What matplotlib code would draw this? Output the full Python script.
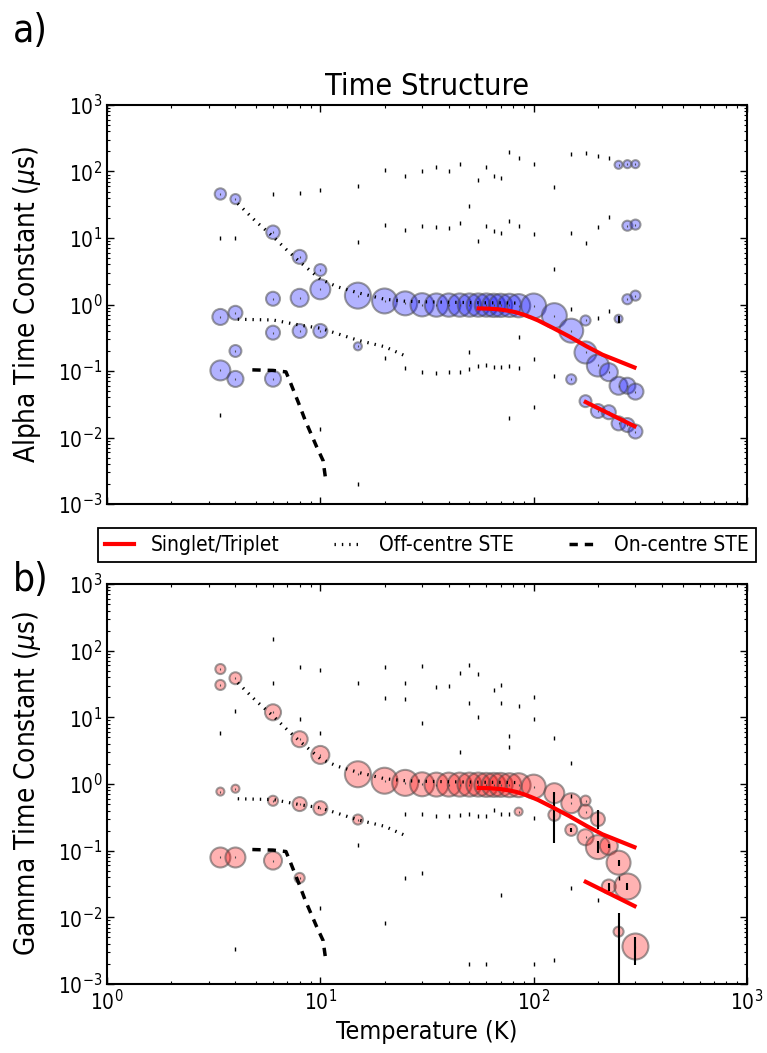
import numpy as np
import matplotlib
matplotlib.use("Agg")
import matplotlib.pyplot as plt
from matplotlib.lines import Line2D

# ---------------- data ----------------
# Alpha: fitted components (temperature K, time constant us, relative amplitude)
alpha_T = [3.4, 3.4, 3.4, 4, 4, 4, 4, 6, 6, 6, 6, 8, 8, 8, 10, 10, 10, 15, 15,
           20, 25, 30, 35, 40, 45, 50, 55, 60, 65, 70, 77, 85, 100, 125,
           150, 150, 175, 175, 175, 200, 200, 225, 225,
           250, 250, 250, 250, 275, 275, 275, 275, 275, 300, 300, 300, 300, 300]
alpha_tau = [45.9, 0.65, 0.102, 38.5, 0.75, 0.20, 0.076, 12.2, 1.22, 0.377, 0.0766,
             5.2, 1.26, 0.40, 3.3, 1.69, 0.40, 1.36, 0.235,
             1.13, 1.04, 0.99, 0.98, 0.98, 0.98, 0.98, 0.98, 0.98, 0.97, 0.97, 0.97, 0.96,
             0.95, 0.68, 0.404, 0.075, 0.19, 0.575, 0.0352, 0.121, 0.025, 0.096, 0.024,
             0.060, 0.61, 0.0163, 126, 0.060, 1.2, 15.3, 0.0154, 129,
             0.049, 1.36, 15.9, 0.0123, 129]
alpha_amp = [0.19, 0.38, 0.59, 0.15, 0.29, 0.21, 0.38, 0.27, 0.29, 0.29, 0.38,
             0.29, 0.48, 0.29, 0.21, 0.59, 0.29, 1.0, 0.095,
             0.92, 0.85, 0.8, 0.8, 0.8, 0.8, 0.8, 0.8, 0.8, 0.8, 0.8, 0.8, 0.8,
             0.92, 0.92, 0.85, 0.15, 0.72, 0.15, 0.21, 0.72, 0.29, 0.48, 0.29,
             0.48, 0.095, 0.29, 0.095, 0.38, 0.15, 0.15, 0.29, 0.095,
             0.38, 0.15, 0.15, 0.29, 0.095]
# Alpha: negligible-amplitude components
alpha_small_T = [3.4, 3.4, 4, 6, 8, 10, 10, 15, 15, 15, 20, 20, 20, 25, 25, 25,
                 30, 30, 30, 35, 35, 35, 40, 40, 40, 45, 45, 45, 50, 50, 50,
                 55, 55, 55, 60, 60, 60, 65, 65, 65, 70, 70, 70, 77, 77, 77, 77,
                 85, 85, 85, 85, 100, 100, 100, 100, 125, 125, 125,
                 150, 150, 150, 175, 175, 200, 200, 200, 225, 225, 225]
alpha_small_tau = [10, 0.022, 10, 46, 47.5, 52, 0.0135, 61, 8.6, 0.002, 107, 15.7, 0.159,
                   85, 13, 0.112, 102, 15.2, 0.096, 117, 14.8, 0.093, 102, 14, 0.098,
                   129, 17, 0.098, 30, 0.19, 0.107, 74, 9.1, 0.119, 115, 15.3, 0.123,
                   85, 12.9, 0.115, 79, 12.0, 0.114, 198, 17.8, 0.119, 0.0195,
                   159, 15.3, 0.33, 0.110, 129, 11.3, 0.15, 0.029, 59, 3.42, 0.084,
                   183, 11.7, 0.855, 192, 8.5, 174, 14.8, 0.634, 158, 20.7, 0.8]
alpha_eb_T = [250]
alpha_eb_tau = [0.61]
alpha_eb_lo = [0.52]
alpha_eb_hi = [0.67]

# Gamma
gamma_T = [3.4, 3.4, 3.4, 3.4, 4, 4, 4, 6, 6, 6, 8, 8, 8, 10, 10, 15, 15,
           20, 25, 30, 35, 40, 45, 50, 55, 60, 65, 70, 77, 85, 85, 100,
           125, 125, 150, 150, 175, 175, 175, 200, 200, 225, 225, 250, 250, 275, 300]
gamma_tau = [53, 30.6, 0.77, 0.079, 38.6, 0.85, 0.079, 11.9, 0.56, 0.071,
             4.7, 0.50, 0.039, 2.73, 0.434, 1.40, 0.293,
             1.12, 1.04, 0.99, 0.98, 0.98, 0.98, 0.98, 0.98, 0.97, 0.97, 0.97, 0.96, 0.96, 0.385,
             0.914, 0.728, 0.344, 0.515, 0.205, 0.563, 0.385, 0.159, 0.297, 0.113,
             0.118, 0.029, 0.066, 0.0061, 0.029, 0.00365]
gamma_amp = [0.15, 0.15, 0.095, 0.59, 0.21, 0.095, 0.59, 0.38, 0.15, 0.48,
             0.38, 0.29, 0.15, 0.48, 0.29, 1.0, 0.15,
             1.0, 1.0, 0.85, 0.85, 0.85, 0.85, 0.85, 0.85, 0.85, 0.85, 0.85, 0.85, 0.85, 0.095,
             0.85, 0.59, 0.21, 0.59, 0.21, 0.15, 0.29, 0.38, 0.29, 0.85,
             0.48, 0.29, 0.85, 0.15, 1.0, 1.0]
gamma_small_T = [3.4, 4, 4, 6, 6, 8, 8, 10, 10, 10, 15, 15, 20, 20, 20,
                 25, 25, 25, 25, 30, 30, 30, 30, 35, 35, 40, 40, 45, 45, 45,
                 50, 50, 50, 50, 55, 55, 55, 60, 60, 65, 65, 70, 70, 70, 70,
                 77, 77, 77, 85, 100, 100, 100, 100, 125, 125, 150, 150, 150, 200, 250]
gamma_small_tau = [5.8, 12.5, 0.0033, 148, 33, 57, 9.5, 51, 5.8, 0.0137, 33, 0.122,
                   56, 19.7, 0.0083, 33, 18.9, 0.356, 0.0387, 59, 8.3, 0.356, 0.047,
                   29, 0.333, 29.5, 0.335, 47, 3.0, 0.34, 60, 16.3, 0.35, 0.002,
                   45, 10, 0.33, 0.335, 0.002, 26, 0.41, 31, 16.3, 0.35, 0.0217,
                   5.3, 3.55, 0.35, 15, 20, 9.3, 0.307, 0.002, 4.9, 0.0023,
                   2.1, 0.65, 0.028, 0.0183, 0.039]
gamma_eb_T = [125, 150, 200, 200, 225, 225, 250, 250, 275, 300]
gamma_eb_tau = [0.344, 0.205, 0.297, 0.113, 0.118, 0.029, 0.066, 0.0061, 0.029, 0.00365]
gamma_eb_lo = [0.129, 0.19, 0.21, 0.0935, 0.11, 0.025, 0.0585, 0.0001, 0.0258, 0.00194]
gamma_eb_hi = [0.77, 0.22, 0.41, 0.139, 0.128, 0.033, 0.0736, 0.0116, 0.0325, 0.00515]

# Model curves
singlet_T = [54, 62, 70, 77, 83, 90, 97, 105, 123, 147, 177, 210, 254, 303]
singlet_tau = [0.875, 0.865, 0.84, 0.80, 0.76, 0.70, 0.64, 0.575, 0.445, 0.33, 0.235, 0.176, 0.138, 0.11]
triplet_T = [172, 303]
triplet_tau = [0.0352, 0.0143]
off_upper_T = [4.1, 5, 6, 7, 8, 10, 12, 15, 20, 25, 30, 40, 50, 60, 70, 85]
off_upper_tau = [33, 17.6, 10.5, 6.5, 4.4, 2.4, 1.85, 1.5, 1.2, 1.12, 1.1, 1.08, 1.07, 1.06, 1.06, 1.05]
off_lower_T = [4.1, 6, 8, 10, 15, 20, 24.5]
off_lower_tau = [0.6, 0.585, 0.49, 0.44, 0.29, 0.232, 0.174]
on_T = [4.8, 6.0, 6.9, 7.2, 8.0, 8.5, 9.6, 10.3, 10.6]
on_tau = [0.104, 0.102, 0.097, 0.07, 0.03, 0.018, 0.0073, 0.0045, 0.0023]

legend_labels = ["Singlet/Triplet", "Off-centre STE", "On-centre STE"]

# ---------------- style ----------------
plt.rcParams.update({
    "font.family": ["DejaVu Sans"],
    "font.stretch": "condensed",
    "mathtext.fontset": "dejavusans",
    "xtick.direction": "in", "ytick.direction": "in",
    "xtick.top": True, "ytick.right": True,
    "xtick.major.size": 5, "ytick.major.size": 5,
    "xtick.minor.size": 2.5, "ytick.minor.size": 2.5,
    "xtick.major.width": 1.0, "ytick.major.width": 1.0,
    "xtick.minor.width": 0.8, "ytick.minor.width": 0.8,
    "axes.linewidth": 1.5,
    "lines.scale_dashes": False,
    "xtick.labelsize": 15, "ytick.labelsize": 15,
})

W, H = 767, 1053
fig = plt.figure(figsize=(W / 100, H / 100), dpi=100)
ax1 = fig.add_axes([107 / W, 1 - 504 / H, 640 / W, 399 / H])
ax2 = fig.add_axes([107 / W, 1 - 984 / H, 640 / W, 400 / H])

SMAX = 350.0
DOT = (1, 4.3)


def draw_panel(ax, T, tau, amp, sT, stau, ebT, ebtau, eblo, ebhi, face):
    T = np.asarray(T, float); tau = np.asarray(tau, float); amp = np.asarray(amp, float)
    ax.scatter(T, tau, s=amp * SMAX, facecolor=face, edgecolor=(0.3, 0.3, 0.3, 0.55),
               linewidth=1.5, zorder=2)
    ax.plot(T, tau, ls="none", marker="|", ms=2, mew=0.8, color=(0.3, 0.3, 0.3), zorder=3)
    ax.plot(sT, stau, ls="none", marker="|", ms=2.2, mew=1.0, color="k", zorder=3)
    ebtau = np.asarray(ebtau, float)
    yerr = [ebtau - np.asarray(eblo, float), np.asarray(ebhi, float) - ebtau]
    ax.errorbar(ebT, ebtau, yerr=yerr, fmt="none", ecolor="k", elinewidth=1.5, capsize=0, zorder=3)
    ax.plot(singlet_T, singlet_tau, color="red", lw=3, zorder=4, solid_capstyle="butt")
    ax.plot(triplet_T, triplet_tau, color="red", lw=3, zorder=4, solid_capstyle="butt")
    ax.plot(off_upper_T, off_upper_tau, color="k", lw=2.3, dashes=DOT, zorder=4)
    ax.plot(off_lower_T, off_lower_tau, color="k", lw=2.3, dashes=DOT, zorder=4)
    ax.plot(on_T, on_tau, color="k", lw=2.5, dashes=(6, 5), zorder=4)
    ax.set_xscale("log"); ax.set_yscale("log")
    ax.set_xlim(1, 1000); ax.set_ylim(1e-3, 1e3)


draw_panel(ax1, alpha_T, alpha_tau, alpha_amp, alpha_small_T, alpha_small_tau,
           alpha_eb_T, alpha_eb_tau, alpha_eb_lo, alpha_eb_hi, (0, 0, 1, 0.3))
draw_panel(ax2, gamma_T, gamma_tau, gamma_amp, gamma_small_T, gamma_small_tau,
           gamma_eb_T, gamma_eb_tau, gamma_eb_lo, gamma_eb_hi, (1, 0, 0, 0.3))

ax1.tick_params(axis="x", which="both", labelbottom=False)
ax1.set_title("Time Structure", fontsize=22, pad=7)
ax1.set_ylabel(r"Alpha Time Constant ($\mu$s)", fontsize=20)
ax2.set_ylabel(r"Gamma Time Constant ($\mu$s)", fontsize=20)
ax2.set_xlabel("Temperature (K)", fontsize=18, labelpad=4)
for ax in (ax1, ax2):
    ax.yaxis.set_label_coords(-0.1, 0.5)

handles = [Line2D([], [], color="red", lw=3),
           Line2D([], [], color="k", lw=2.3, dashes=DOT),
           Line2D([], [], color="k", lw=2.5, dashes=(6, 5))]
leg = fig.legend(handles, legend_labels, loc="center", bbox_to_anchor=(427 / W, 1 - 545 / H),
                 ncol=3, fontsize=15, frameon=True, fancybox=False, edgecolor="k",
                 framealpha=1, handlelength=1.4, handletextpad=0.8, columnspacing=2.6,
                 borderpad=0.35, borderaxespad=0)
leg.get_frame().set_linewidth(1.3)

fig.text(13 / W, 1 - 42 / H, "a)", fontsize=28, va="baseline")
fig.text(13 / W, 1 - 591 / H, "b)", fontsize=28, va="baseline")

fig.savefig("out.png", dpi=100)
